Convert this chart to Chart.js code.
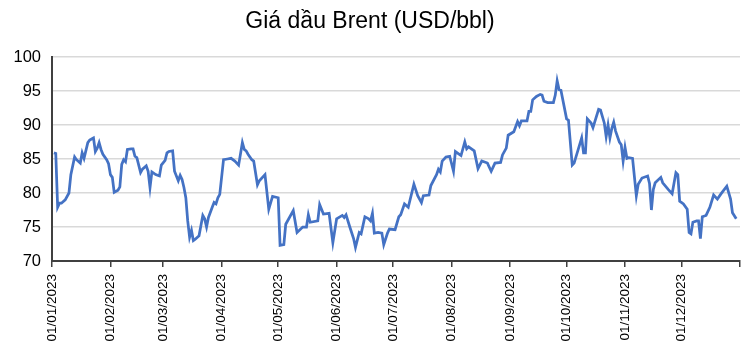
<!DOCTYPE html>
<html>
<head>
<meta charset="utf-8">
<title>Giá dầu Brent</title>
<script src="https://cdn.jsdelivr.net/npm/chart.js@4.4.1/dist/chart.umd.min.js"></script>
<style>
  html, body { margin: 0; padding: 0; background: #fff; }
  #wrap { width: 756px; height: 348px; }
</style>
</head>
<body>
<div id="wrap"><canvas id="brent-chart"></canvas></div>
<script>
// trading dates (dd/mm, 2023) and Brent close (USD/bbl)
var dates = [
  '02/01','03/01','04/01','05/01','06/01','08/01','10/01','11/01','13/01','14/01','16/01','17/01','18/01','20/01','21/01','23/01','24/01','25/01','26/01','27/01','28/01','30/01','31/01',
  '01/02','02/02','03/02','05/02','06/02','07/02','08/02','09/02','10/02','12/02','13/02','14/02','15/02','17/02','18/02','20/02','21/02','22/02','23/02','25/02','27/02','28/02',
  '02/03','03/03','04/03','06/03','07/03','09/03','10/03','11/03','12/03','13/03','14/03','15/03','16/03','17/03','18/03','20/03','22/03','23/03','24/03','25/03','27/03','28/03','29/03','30/03','31/03',
  '02/04','04/04','06/04','08/04','10/04','12/04','13/04','14/04','15/04','17/04','18/04','20/04','21/04','24/04','26/04','28/04',
  '01/05','02/05','04/05','05/05','09/05','11/05','14/05','16/05','17/05','18/05','22/05','23/05','25/05','28/05','30/05',
  '01/06','04/06','05/06','06/06','08/06','10/06','11/06','13/06','14/06','16/06','18/06','19/06','20/06','21/06','23/06','25/06','26/06','28/06','29/06',
  '02/07','04/07','05/07','07/07','09/07','12/07','14/07','16/07','17/07','20/07','21/07','24/07','25/07','26/07','27/07','29/07','31/07',
  '02/08','03/08','06/08','08/08','09/08','10/08','13/08','15/08','17/08','20/08','22/08','24/08','27/08','28/08','30/08','31/08',
  '03/09','05/09','06/09','07/09','10/09','11/09','12/09','13/09','15/09','17/09','18/09','19/09','21/09','24/09','25/09','26/09','27/09','28/09',
  '01/10','02/10','04/10','05/10','09/10','10/10','11/10','12/10','14/10','15/10','18/10','19/10','21/10','22/10','23/10','24/10','25/10','26/10','27/10','29/10','30/10','31/10',
  '01/11','02/11','03/11','05/11','07/11','08/11','10/11','13/11','14/11','15/11','16/11','17/11','20/11','21/11','24/11','26/11','28/11','29/11','30/11',
  '02/12','04/12','05/12','06/12','07/12','09/12','10/12','11/12','12/12','14/12','16/12','18/12','20/12','22/12','25/12','27/12','28/12','30/12'
];

var prices = [
  85.9, 85.8, 77.9, 78.5, 78.5, 79.0, 80.0, 82.7, 85.3, 84.9, 84.4, 85.9, 85.1, 87.4, 87.8, 88.1, 86.1, 86.6, 87.4, 86.4, 85.7, 84.9, 84.3,
  82.7, 82.3, 80.1, 80.4, 80.9, 84.2, 84.9, 84.6, 86.4, 86.5, 86.5, 85.4, 85.2, 83.0, 83.5, 84.0, 83.2, 80.8, 83.1, 82.7, 82.5, 84.1,
  84.8, 85.9, 86.1, 86.2, 83.2, 81.8, 82.6, 82.0, 80.8, 79.3, 75.9, 73.5, 74.5, 73.0, 73.2, 73.7, 76.7, 76.2, 75.0, 76.4, 77.9, 78.6, 78.4, 79.3, 79.8,
  84.9, 85.0, 85.1, 84.7, 84.1, 87.4, 86.4, 86.2, 85.7, 84.9, 84.7, 81.2, 81.8, 82.7, 77.6, 79.5,
  79.3, 72.3, 72.4, 75.4, 77.4, 74.2, 75.0, 75.0, 76.8, 75.7, 75.9, 78.3, 76.9, 77.0, 72.7,
  76.2, 76.7, 76.4, 76.8, 75.0, 73.3, 72.0, 74.2, 74.0, 76.5, 76.2, 75.9, 77.0, 74.1, 74.2, 74.1, 72.4, 74.1, 74.7,
  74.6, 76.5, 76.8, 78.4, 77.9, 81.3, 79.6, 78.6, 79.6, 79.7, 81.1, 82.7, 83.5, 83.1, 84.7, 85.3, 85.4,
  83.2, 86.1, 85.5, 87.5, 86.5, 86.8, 86.2, 83.6, 84.7, 84.4, 83.2, 84.4, 84.5, 85.6, 86.6, 88.5,
  89.0, 90.5, 89.9, 90.6, 90.6, 92.0, 92.0, 93.7, 94.2, 94.5, 94.4, 93.5, 93.3, 93.3, 94.4, 96.5, 95.2, 95.1,
  90.9, 90.7, 84.1, 84.4, 88.1, 85.9, 85.9, 90.9, 90.3, 89.6, 92.3, 92.2, 90.3, 88.3, 90.0, 88.1, 89.5, 90.4, 89.1, 87.5, 87.1, 84.7,
  86.7, 85.1, 85.2, 85.1, 79.6, 81.3, 82.2, 82.5, 81.4, 77.5, 80.5, 81.5, 82.3, 81.5, 80.5, 79.9, 83.0, 82.7, 78.8,
  78.4, 77.6, 74.2, 74.0, 75.7, 75.9, 75.9, 73.3, 76.5, 76.7, 77.9, 79.7, 79.1, 79.9, 81.0, 79.1, 77.1, 76.2
];

var tickLabels = ['01/01/2023','01/02/2023','01/03/2023','01/04/2023','01/05/2023','01/06/2023',
  '01/07/2023','01/08/2023','01/09/2023','01/10/2023','01/11/2023','01/12/2023'];
var yearEnd = '31/12/2023';

// day of year, 0 = 1 Jan 2023
function dayOf(str) {
  var p = str.split('/');
  var y = p.length > 2 ? +p[2] : 2023;
  return (Date.UTC(y, +p[1] - 1, +p[0]) - Date.UTC(2023, 0, 1)) / 86400000;
}

var tickDays = tickLabels.map(dayOf);
var endDay = dayOf(yearEnd) + 1;

var points = dates.map(function(d, i) {
  return { x: dayOf(d), y: prices[i] };
});

var font = "'Liberation Sans', Arial, sans-serif";

var ctx = document.getElementById('brent-chart').getContext('2d');
var brentChart = new Chart(ctx, {
  type: 'line',
  data: {
    datasets: [{
      label: 'Brent',
      data: points,
      borderColor: '#4472c4',
      borderWidth: 2.75,
      pointRadius: 0,
      tension: 0,
      fill: false,
    }],
  },
  options: {
    responsive: true,
    maintainAspectRatio: false,
    animation: false,
    layout: {
      padding: { left: 0, right: 16, top: 0, bottom: 0 }
    },
    scales: {
      x: {
        type: 'linear',
        min: 0,
        max: endDay,
        afterBuildTicks: function(scale) {
          scale.ticks = tickDays.concat([endDay]).map(function(v) { return { value: v }; });
        },
        afterFit: function(scale) {
          scale.height = 87;
          // rotated labels don't need side room here
          scale.paddingLeft = 0;
          scale.paddingRight = 0;
        },
        ticks: {
          autoSkip: false,
          minRotation: 90,
          maxRotation: 90,
          color: '#000',
          padding: 7,
          font: { family: font, size: 13.5 },
          callback: function(val) {
            var i = tickDays.indexOf(val);
            return i >= 0 ? tickLabels[i] : '';
          }
        },
        grid: {
          drawOnChartArea: false,
          drawTicks: true,
          tickLength: 6,
          color: '#404040',
          lineWidth: 1.5,
        },
        border: { display: true, color: '#404040', width: 2 }
      },
      y: {
        min: 70,
        max: 100,
        afterFit: function(scale) { scale.width = 52; },
        ticks: {
          stepSize: 5,
          color: '#000',
          padding: 11,
          font: { family: font, size: 16.5 }
        },
        grid: {
          color: '#d9d9d9',
          lineWidth: 1.5,
          drawTicks: false,
        },
        border: { display: true, color: '#404040', width: 2 }
      }
    },
    plugins: {
      legend: { display: false },
      tooltip: { enabled: false },
      title: {
        display: true,
        text: 'Giá dầu Brent (USD/bbl)',
        color: '#000',
        font: { family: font, size: 23, weight: 'normal' },
        padding: { top: 8, bottom: 21.4 }
      }
    },
  },
});
</script>
</body>
</html>
